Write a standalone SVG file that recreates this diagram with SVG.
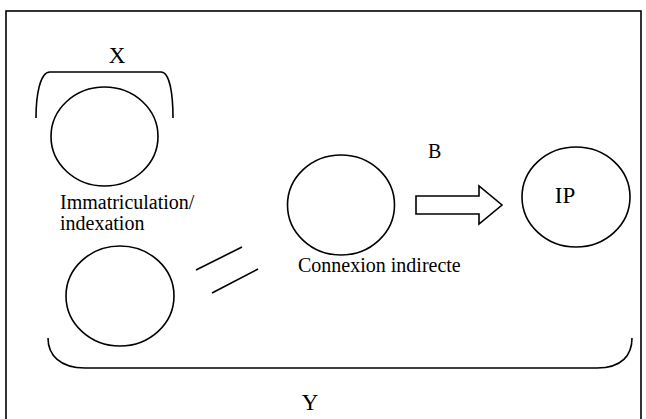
<svg xmlns="http://www.w3.org/2000/svg" width="646" height="419" viewBox="0 0 646 419">
<style>
.ln{fill:none;stroke:#000;stroke-width:1.6}
.nd{fill:#fff;stroke:#000;stroke-width:1.6}
.t{font-family:"Liberation Serif","Times New Roman",serif;fill:#000}
.s{font-size:20px}
.b{font-size:23px}
</style>
<rect x="0" y="0" width="646" height="419" fill="#fff"/>
<rect x="6" y="11" width="635" height="420" class="ln"/>
<g id="bracket-x">
<text class="t b" x="117" y="63" text-anchor="middle">X</text>
<path class="ln" d="M36,118 C36,95 40,72 50,72 L161,72 C170,72 173,95 173,118"/>
</g>
<g id="node-immatriculation">
<ellipse class="nd" cx="104.5" cy="136.5" rx="53.5" ry="49.5"/>
<text class="t s" x="60" y="209">Immatriculation/</text>
<text class="t s" x="60" y="230">indexation</text>
</g>
<g id="node-bottom">
<ellipse class="nd" cx="120" cy="296" rx="54" ry="50"/>
</g>
<g id="node-connexion">
<ellipse class="nd" cx="341" cy="205" rx="53.5" ry="50"/>
<text class="t s" x="298" y="272">Connexion indirecte</text>
</g>
<g id="node-ip">
<ellipse class="nd" cx="576" cy="197" rx="54" ry="50"/>
<text class="t b" x="565" y="203" text-anchor="middle">IP</text>
</g>
<g id="connectors">
<line class="ln" x1="196" y1="270" x2="242" y2="247"/>
<line class="ln" x1="212" y1="293" x2="258" y2="269"/>
<text class="t s" x="428" y="158">B</text>
<path class="nd" d="M416,196 L479,196 L479,186 L502,205 L479,224 L479,214 L416,214 Z"/>
</g>
<g id="bracket-y">
<path class="ln" d="M48,338 C48,355 60,368 85,368 L597,368 C622,368 632,355 632,338"/>
<text class="t b" x="310" y="410" text-anchor="middle">Y</text>
</g>
</svg>
